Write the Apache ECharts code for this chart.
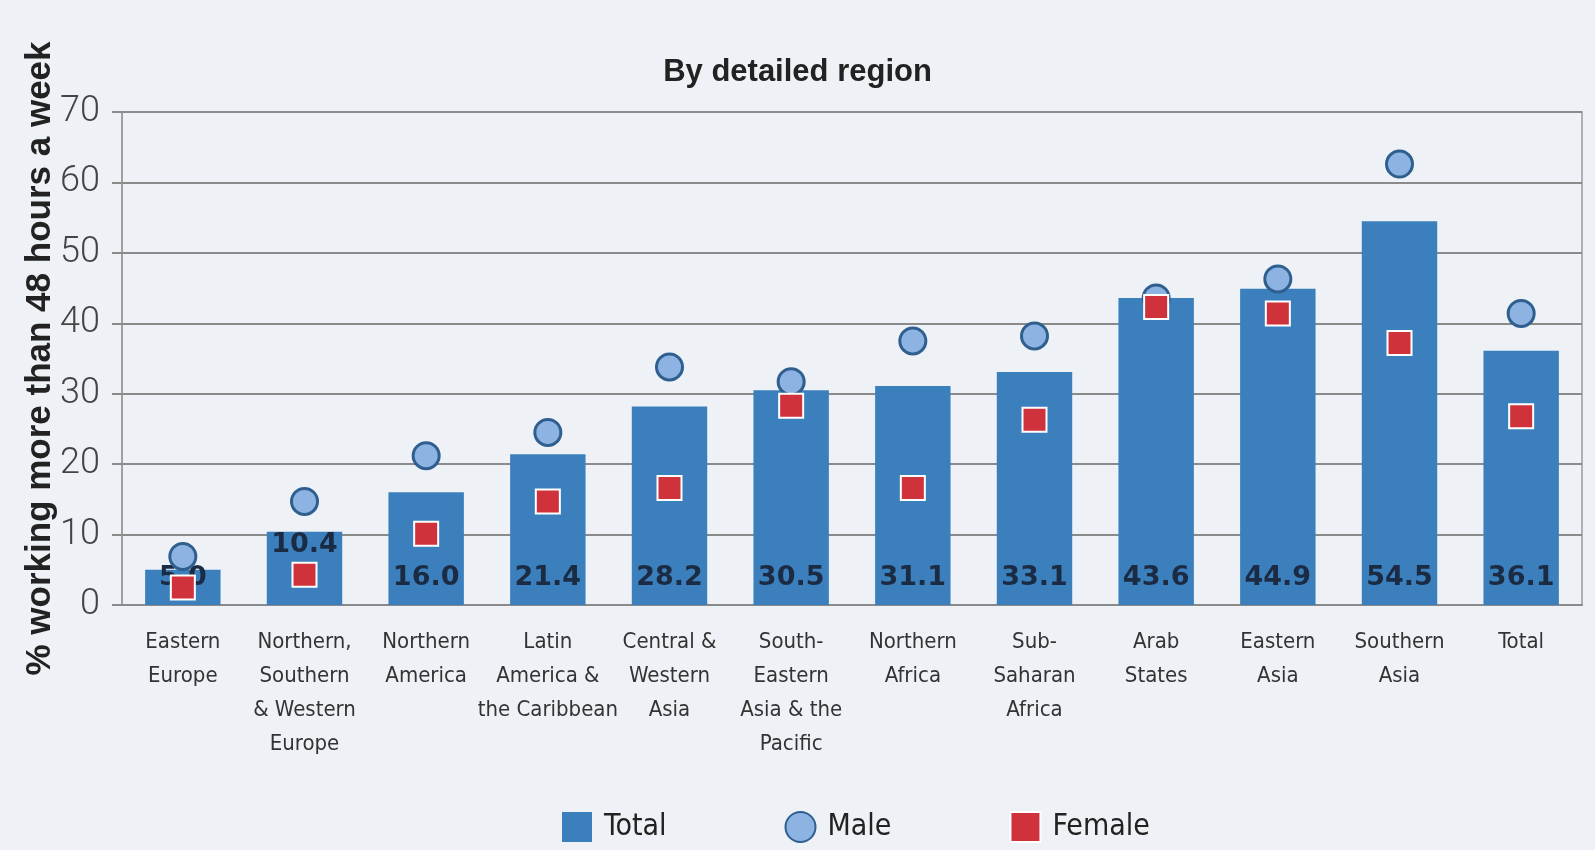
<!DOCTYPE html>
<html>
<head>
<meta charset="utf-8">
<script src="https://cdn.jsdelivr.net/npm/echarts@6/dist/echarts.min.js"></script>
<style>
  html, body { margin: 0; padding: 0; background: #eef1f6; }
  #main { width: 1595px; height: 850px; }
</style>
</head>
<body>
<div id="main"></div>
<script>
// regions, left to right
var regions = [
  'Eastern\nEurope',
  'Northern,\nSouthern\n& Western\nEurope',
  'Northern\nAmerica',
  'Latin\nAmerica &\nthe Caribbean',
  'Central &\nWestern\nAsia',
  'South-\nEastern\nAsia & the\nPacific',
  'Northern\nAfrica',
  'Sub-\nSaharan\nAfrica',
  'Arab\nStates',
  'Eastern\nAsia',
  'Southern\nAsia',
  'Total'
];
// % working more than 48 hours a week
var totalValues = [5.0, 10.4, 16.0, 21.4, 28.2, 30.5, 31.1, 33.1, 43.6, 44.9, 54.5, 36.1];
var maleValues = [6.9, 14.7, 21.2, 24.5, 33.8, 31.7, 37.5, 38.2, 43.6, 46.3, 62.6, 41.4];
var femaleValues = [2.5, 4.3, 10.1, 14.7, 16.6, 28.3, 16.6, 26.3, 42.3, 41.4, 37.2, 26.8];

var narrow = "'Liberation Sans Narrow', 'DejaVu Sans Condensed', sans-serif";

var myChart = echarts.init(document.getElementById('main'));

// bar labels sit at the bottom, except the short one which sits at the top
var barData = totalValues.map(function (v, i) {
    if (i === 1) {
        return { value: v, label: { position: 'insideTop', distance: 0 } };
    }
    return v;
});

var option = {
    backgroundColor: '#eef1f6',
    title: {
        text: 'By detailed region',
        left: 'center',
        top: 52,
        textStyle: {
            fontFamily: 'Liberation Sans, Arial, sans-serif',
            fontSize: 31,
            fontWeight: 'bold',
            color: '#222'
        }
    },
    legend: {
        left: 557,
        top: 806,
        itemGap: 118,
        itemWidth: 30,
        itemHeight: 30,
        textStyle: {
            fontFamily: narrow,
            fontSize: 30,
            color: '#222',
            padding: [0, 0, 0, 7]
        },
        data: [
            { name: 'Total', icon: 'rect' },
            { name: 'Male', icon: 'circle' },
            { name: 'Female', icon: 'rect' }
        ]
    },
    grid: {
        left: 122,
        right: 13,
        top: 112,
        bottom: 245,
        show: true,
        borderColor: '#9a9a9a',
        borderWidth: 1.5
    },
    xAxis: {
        type: 'category',
        data: regions,
        axisLine: { lineStyle: { color: '#8a8a8a', width: 2 } },
        axisTick: { show: false },
        axisLabel: {
            interval: 0,
            margin: 20,
            fontFamily: narrow,
            fontSize: 22,
            lineHeight: 34,
            color: '#333',
            verticalAlign: 'top'
        }
    },
    yAxis: {
        type: 'value',
        min: 0,
        max: 70,
        interval: 10,
        name: '% working more than 48 hours a week',
        nameLocation: 'middle',
        nameRotate: 90,
        nameGap: 64,
        nameMoveOverlap: false,
        nameTextStyle: {
            fontFamily: 'Liberation Sans, Arial, sans-serif',
            fontSize: 35,
            fontWeight: 'bold',
            color: '#222'
        },
        axisLine: { show: true, lineStyle: { color: '#9a9a9a', width: 1.5 } },
        axisTick: { show: true, length: 10, lineStyle: { color: '#8a8a8a', width: 2 } },
        axisLabel: {
            margin: 22,
            fontFamily: 'Roboto, sans-serif',
            fontWeight: 300,
            fontSize: 36,
            color: '#444'
        },
        splitLine: { lineStyle: { color: '#8a8a8a', width: 2 } }
    },
    series: [
        {
            name: 'Total',
            type: 'bar',
            data: barData,
            barWidth: '62%',
            itemStyle: { color: '#3b80bd' },
            label: {
                show: true,
                position: 'insideBottom',
                distance: 14,
                formatter: function (p) { return p.value.toFixed(1); },
                fontFamily: 'DejaVu Sans, sans-serif',
                fontWeight: 'bold',
                fontSize: 27,
                color: '#1c2b44'
            },
            z: 2
        },
        {
            name: 'Male',
            type: 'scatter',
            data: maleValues,
            symbol: 'circle',
            symbolSize: 26,
            itemStyle: { color: '#8db3e2', borderColor: '#2f5f8f', borderWidth: 3, opacity: 1 },
            z: 3
        },
        {
            name: 'Female',
            type: 'scatter',
            data: femaleValues,
            symbol: 'rect',
            symbolSize: 24,
            itemStyle: { color: '#d0323c', borderColor: '#ffffff', borderWidth: 2, opacity: 1 },
            z: 4
        }
    ]
};
myChart.setOption(option);
</script>
</body>
</html>
